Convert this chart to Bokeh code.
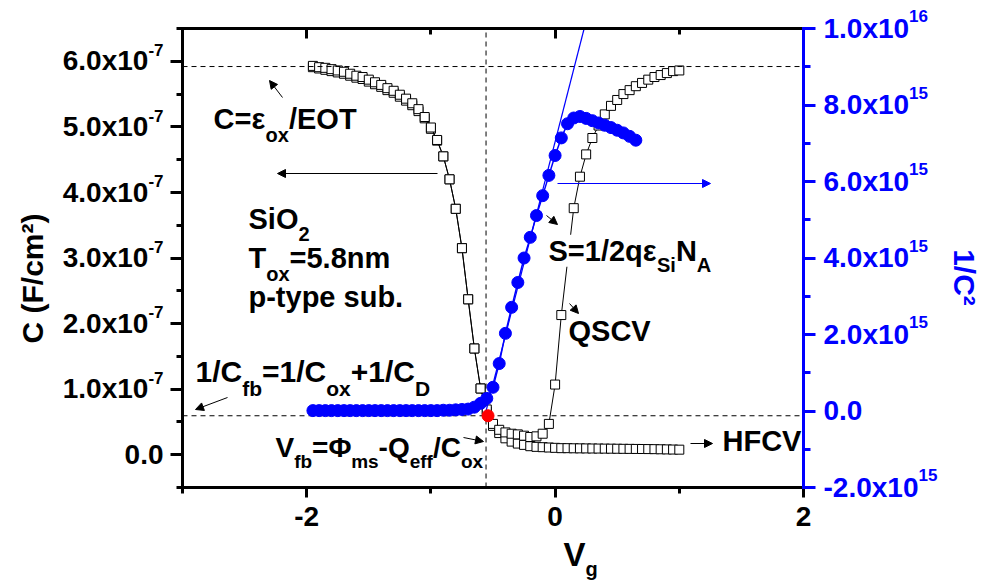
import math
from bokeh.plotting import figure
from bokeh.models import (Range1d, LinearAxis, FixedTicker, Label, Arrow, NormalHead,
                          CustomJSTickFormatter)
from bokeh.embed import file_html
from bokeh.resources import INLINE

# ---------------- data ----------------
vg_hf = [-1.95, -1.90, -1.85, -1.80, -1.75, -1.70, -1.65, -1.60, -1.55, -1.50,
         -1.45, -1.40, -1.35, -1.30, -1.25, -1.20, -1.15, -1.10, -1.05, -1.00,
         -0.95, -0.90, -0.85, -0.80, -0.75, -0.70, -0.65, -0.60, -0.55, -0.50,
         -0.45, -0.40, -0.35, -0.30, -0.25, -0.20, -0.15, -0.10, -0.05, 0.00,
         0.05, 0.10, 0.15, 0.20, 0.25, 0.30, 0.35, 0.40, 0.45, 0.50,
         0.55, 0.60, 0.65, 0.70, 0.75, 0.80, 0.85, 0.90, 0.95, 1.00]
# HFCV capacitance, units of 1e-7 F/cm^2
c_hf = [5.91, 5.89, 5.87, 5.85, 5.83, 5.81, 5.78, 5.75, 5.73, 5.69,
        5.65, 5.61, 5.56, 5.52, 5.46, 5.40, 5.33, 5.24, 5.13, 4.97,
        4.79, 4.55, 4.20, 3.75, 3.15, 2.37, 1.62, 1.01, 0.66, 0.44,
        0.33, 0.25, 0.20, 0.17, 0.15, 0.13, 0.12, 0.115, 0.11, 0.105,
        0.10, 0.10, 0.098, 0.097, 0.096, 0.095, 0.094, 0.093, 0.092, 0.091,
        0.090, 0.089, 0.088, 0.087, 0.086, 0.085, 0.083, 0.081, 0.079, 0.077]

vg_qs = [-1.95, -1.90, -1.85, -1.80, -1.75, -1.70, -1.65, -1.60, -1.55, -1.50,
         -1.45, -1.40, -1.35, -1.30, -1.25, -1.20, -1.15, -1.10, -1.05, -1.00,
         -0.95, -0.90, -0.85, -0.80, -0.75, -0.70, -0.65, -0.60, -0.55, -0.50,
         -0.45, -0.40, -0.35, -0.30, -0.25, -0.20, -0.15, -0.10, -0.05, 0.00,
         0.05, 0.15, 0.20, 0.25, 0.30, 0.35, 0.40, 0.45, 0.50,
         0.55, 0.60, 0.65, 0.70, 0.75, 0.80, 0.85, 0.90, 0.95, 1.00]
# QSCV capacitance, units of 1e-7 F/cm^2
c_qs = [5.93, 5.91, 5.90, 5.88, 5.86, 5.84, 5.81, 5.78, 5.76, 5.72,
        5.68, 5.64, 5.59, 5.55, 5.49, 5.43, 5.36, 5.27, 5.15, 4.99,
        4.80, 4.55, 4.20, 3.75, 3.15, 2.37, 1.62, 1.01, 0.69, 0.47,
        0.38, 0.34, 0.32, 0.31, 0.29, 0.27, 0.28, 0.32, 0.47, 1.07,
        2.13, 3.76, 4.24, 4.58, 4.83, 5.02, 5.19, 5.32, 5.41,
        5.50, 5.56, 5.62, 5.67, 5.72, 5.76, 5.79, 5.82, 5.85, 5.86]

vg_inv = [-1.95, -1.90, -1.85, -1.80, -1.75, -1.70, -1.65, -1.60, -1.55, -1.50,
          -1.45, -1.40, -1.35, -1.30, -1.25, -1.20, -1.15, -1.10, -1.05, -1.00,
          -0.95, -0.90, -0.85, -0.80, -0.75, -0.70, -0.65, -0.60, -0.55, -0.50,
          -0.45, -0.40, -0.35, -0.30, -0.25, -0.20, -0.15, -0.10, -0.05, 0.00,
          0.05, 0.10, 0.15, 0.20, 0.25, 0.30, 0.35, 0.40, 0.45, 0.50,
          0.55, 0.60, 0.65]
# 1/C^2, units of 1e15
inv_c2 = [0.01, 0.01, 0.01, 0.01, 0.01, 0.01, 0.01, 0.01, 0.01, 0.01,
          0.01, 0.01, 0.01, 0.01, 0.01, 0.01, 0.01, 0.01, 0.01, 0.01,
          0.01, 0.02, 0.02, 0.03, 0.04, 0.05, 0.10, 0.20, 0.33, 0.62,
          1.24, 2.03, 2.71, 3.36, 4.00, 4.54, 5.11, 5.63, 6.16, 6.68,
          7.14, 7.51, 7.66, 7.70, 7.65, 7.59, 7.53, 7.47, 7.41, 7.34,
          7.27, 7.18, 7.08]

# linear fit of 1/C^2 (depletion region)
fit_vg = [-0.556, 0.234]
fit_inv = [0.0, 10.0]

# flat-band point
vfb_point = [-0.54]
cfb_point = [0.594]

c_ox_level = 5.92      # 1e-7
c_fb_level = 0.594     # 1e-7
v_fb_level = -0.556

x_lo, x_hi = -3, 2
c_lo, c_hi = -0.5, 6.5           # 1e-7
r_lo, r_hi = -2, 10              # 1e15

left_ticks = [0, 1, 2, 3, 4, 5, 6]             # 1e-7
left_minor = [-0.5, 0.5, 1.5, 2.5, 3.5, 4.5, 5.5, 6.5]
left_base = ["0.0", "1.0x10", "2.0x10", "3.0x10", "4.0x10", "5.0x10", "6.0x10"]
left_sup = ["", "-7", "-7", "-7", "-7", "-7", "-7"]

right_ticks = [-2, 0, 2, 4, 6, 8, 10]           # 1e15
right_minor = [-1, 1, 3, 5, 7, 9]
right_base = ["-2.0x10", "0.0", "2.0x10", "4.0x10", "6.0x10", "8.0x10", "1.0x10"]
right_sup = ["15", "", "15", "15", "15", "15", "16"]

x_ticks = [-2, 0, 2]
x_minor = [-3, -1, 1]
x_labels = ["-2", "0", "2"]

E7 = 1e-7
E15 = 1e15

FONT = "Liberation Sans"
BLUE = "#0000ff"

# ---------------- geometry (canvas px) ----------------
W, H = 988, 586
FX0, FX1 = 182, 803          # plot box left / right
FY0, FY1 = 28, 487           # plot box top / bottom


def vg_at(px):
    return x_lo + (px - FX0) * (x_hi - x_lo) / (FX1 - FX0)


def c_at(py):
    return (c_hi - (py - FY0) * (c_hi - c_lo) / (FY1 - FY0)) * E7


def r_at(py):
    return (r_hi - (py - FY0) * (r_hi - r_lo) / (FY1 - FY0)) * E15


p = figure(width=W, height=H, x_range=Range1d(vg_at(0), vg_at(W)),
           y_range=Range1d(c_at(H), c_at(0)),
           output_backend="svg", toolbar_location=None, min_border=0)
p.extra_y_ranges = {"inv": Range1d(r_at(H), r_at(0))}
p.xgrid.visible = False
p.ygrid.visible = False
p.outline_line_color = None
p.background_fill_color = "white"
p.border_fill_color = "white"

empty = CustomJSTickFormatter(code="return ''")


def style_axis(ax, color="black", tin=0, tout=0, mtin=0, mtout=0):
    ax.formatter = empty
    ax.major_label_text_font_size = "0px"
    ax.major_label_standoff = 0
    ax.axis_line_width = 3
    ax.axis_line_color = color
    ax.axis_line_cap = "square"
    ax.major_tick_line_width = 3
    ax.minor_tick_line_width = 3
    ax.major_tick_line_color = color
    ax.minor_tick_line_color = color
    ax.major_tick_in = tin
    ax.major_tick_out = tout
    ax.minor_tick_in = mtin
    ax.minor_tick_out = mtout


xa = p.xaxis[0]
xa.ticker = FixedTicker(ticks=x_ticks, minor_ticks=x_minor)
xa.fixed_location = c_lo * E7
xa.bounds = (x_lo, x_hi)
style_axis(xa, tout=10, mtout=6)

ya = p.yaxis[0]
ya.ticker = FixedTicker(ticks=[v * E7 for v in left_ticks], minor_ticks=[v * E7 for v in left_minor])
ya.fixed_location = x_lo
ya.bounds = (c_lo * E7, c_hi * E7)
style_axis(ya, tout=12, mtout=6)

top = LinearAxis(ticker=FixedTicker(ticks=x_ticks, minor_ticks=x_minor),
                 fixed_location=c_hi * E7, bounds=(x_lo, x_hi))
style_axis(top, tin=10, mtin=6)
p.add_layout(top, "above")

ra = LinearAxis(y_range_name="inv",
                ticker=FixedTicker(ticks=[v * E15 for v in right_ticks],
                                   minor_ticks=[v * E15 for v in right_minor]),
                fixed_location=x_hi, bounds=(r_lo * E15, r_hi * E15))
style_axis(ra, color=BLUE, tout=12, mtout=7)
p.add_layout(ra, "right")

# ---------------- glyphs ----------------
hf_y = [v * E7 for v in c_hf]
qs_y = [v * E7 for v in c_qs]
p.line(vg_hf, hf_y, line_color="black", line_width=1)
p.scatter(vg_hf, hf_y, marker="square", size=9, fill_color="white", line_color="black", line_width=1)
p.line(vg_qs, qs_y, line_color="black", line_width=1)
p.scatter(vg_qs, qs_y, marker="square", size=9, fill_color="white", line_color="black", line_width=1)

# dashed guide lines
p.segment(x0=[x_lo, x_lo, v_fb_level], y0=[c_ox_level * E7, c_fb_level * E7, c_lo * E7],
          x1=[x_hi, x_hi, v_fb_level], y1=[c_ox_level * E7, c_fb_level * E7, c_hi * E7],
          line_color="black", line_width=1, line_dash="5 4")

inv_y = [v * E15 for v in inv_c2]
p.line(vg_inv, inv_y, line_color=BLUE, line_width=1.5, y_range_name="inv")
p.scatter(vg_inv, inv_y, marker="circle", size=12, fill_color=BLUE, line_color=BLUE, y_range_name="inv")
p.line(fit_vg, [v * E15 for v in fit_inv], line_color=BLUE, line_width=1.2, y_range_name="inv")

p.scatter(vfb_point, [v * E7 for v in cfb_point], marker="circle", size=12,
          fill_color="#ff0000", line_color="#ff0000")

# ---------------- text helpers ----------------
WID = {' ': 278, '(': 333, ')': 333, '+': 584, '-': 333, '.': 278, '/': 278, '=': 584,
       'A': 722, 'C': 722, 'D': 722, 'E': 667, 'F': 611, 'H': 722, 'N': 722, 'O': 778,
       'Q': 778, 'S': 667, 'T': 611, 'V': 667, 'b': 611, 'c': 556, 'e': 556, 'f': 333,
       'g': 611, 'i': 278, 'm': 889, 'n': 611, 'o': 611, 'p': 611, 'q': 611, 's': 556,
       't': 333, 'u': 611, 'x': 556, 'y': 556, 'ε': 490, 'Φ': 810, '²': 333}


def tw(txt, size):
    return sum(WID.get(ch, 556) for ch in txt) * size / 1000.0


def lab(x, y, text, size, color="black", align="left", baseline="alphabetic",
        xo=0.0, yo=0.0, angle=0.0, yr="default", bg=None):
    if baseline == "alphabetic":
        yo = yo + 3 + 0.3 * size      # compensate renderer's baseline placement
    p.add_layout(Label(x=x, y=y, text=text, x_offset=xo, y_offset=yo, angle=angle,
                       y_range_name=yr, text_font=FONT, text_font_style="bold",
                       text_font_size=f"{size}px", text_color=color, text_align=align,
                       text_baseline=baseline, background_fill_color=bg))


def rich(xr, yb, parts, size=29, sub=20, drop=13, color="black", bg=None):
    x0, y0 = vg_at(xr), c_at(yb)
    off = 0.0
    for txt, kind in parts:
        fs = size if kind == "n" else sub
        yo = 0 if kind == "n" else -drop
        lab(x0, y0, txt, fs, color=color, xo=off, yo=yo, bg=bg)
        off += tw(txt, fs)


def arrow(x1, y1, x2, y2, color="black"):
    p.add_layout(Arrow(end=NormalHead(size=8, fill_color=color, line_color=color, line_width=1),
                       x_start=vg_at(x1), y_start=c_at(y1), x_end=vg_at(x2), y_end=c_at(y2),
                       line_color=color, line_width=1))


# tick labels
for v, b, s in zip(left_ticks, left_base, left_sup):
    sw = tw(s, 17)
    lab(x_lo, v * E7, b, 28, align="right", xo=-19 - sw, yo=-11)
    if s:
        lab(x_lo, v * E7, s, 17, align="right", xo=-19, yo=3)

for v, b, s in zip(right_ticks, right_base, right_sup):
    lab(x_hi, v * E15, b, 28, color=BLUE, align="left", xo=20, yo=-11, yr="inv")
    if s:
        lab(x_hi, v * E15, s, 17, color=BLUE, align="left", xo=20 + tw(b, 28), yo=4, yr="inv")

for v, t in zip(x_ticks, x_labels):
    lab(v, c_lo * E7, t, 28, align="center", yo=-40)

# axis titles
lab(vg_at(31.5), c_at(278), "C (F/cm²)", 30, align="center", baseline="middle", angle=math.pi / 2)
lab(vg_at(964), c_at(277), "1/C²", 30, color=BLUE, align="center", baseline="middle",
    angle=-math.pi / 2)
rich(563, 567, [("V", "n"), ("g", "b")], size=33, sub=20, drop=10)

# annotations
rich(213, 130, [("C=ε", "n"), ("ox", "b"), ("/EOT", "n")])
rich(248, 230, [("SiO", "n"), ("2", "b")], drop=12)
rich(248, 269, [("T", "n"), ("ox", "b"), ("=5.8nm", "n")])
rich(248, 308, [("p-type sub.", "n")])
rich(195, 383, [("1/C", "n"), ("fb", "b"), ("=1/C", "n"), ("ox", "b"), ("+1/C", "n"), ("D", "b")],
     size=30, sub=21, drop=14)
rich(275, 458, [("V", "n"), ("fb", "b"), ("=Φ", "n"), ("ms", "b"), ("-Q", "n"), ("eff", "b"),
                ("/C", "n"), ("ox", "b")], size=28, sub=19, drop=12)
rich(548, 262, [("S=1/2qε", "n"), ("Si", "b"), ("N", "n"), ("A", "b")], drop=11, bg="white")
rich(568, 342, [("QSCV", "n")])
rich(722, 452, [("HFCV", "n")])

arrow(282, 97, 269, 80)
arrow(437, 173, 277, 173)
arrow(557, 183, 710, 183, color=BLUE)
arrow(227, 397, 195, 409)
arrow(463, 437, 483, 441)
arrow(546, 215, 557, 224)
arrow(569, 303, 578, 313)
arrow(690, 443, 712, 443)

open("out.html", "w").write(file_html(p, INLINE))
